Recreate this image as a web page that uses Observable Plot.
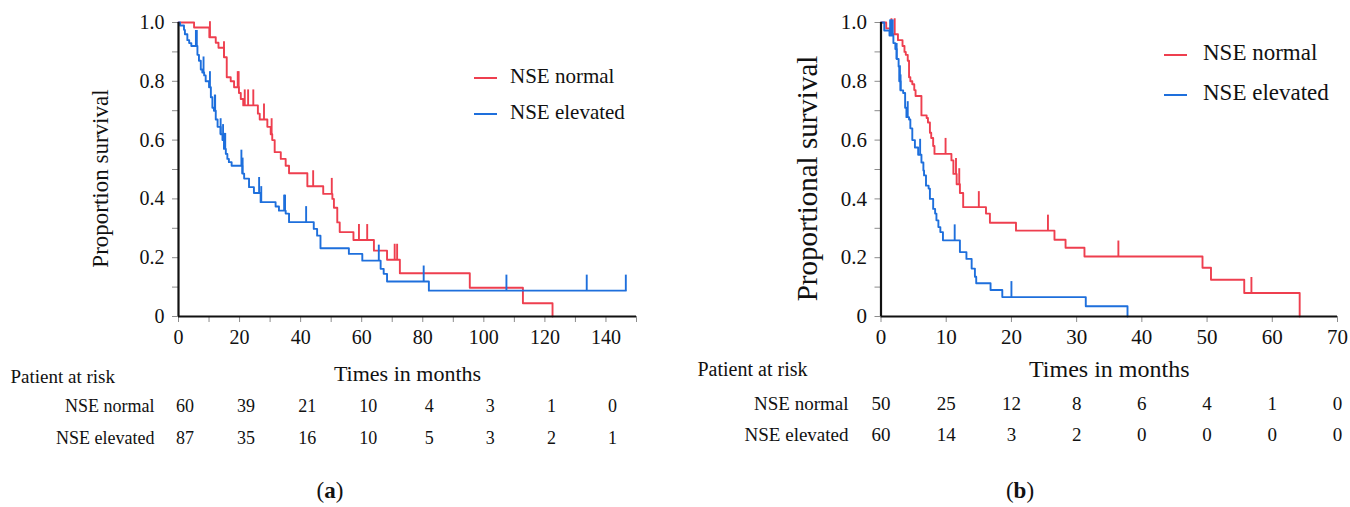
<!DOCTYPE html>
<html><head><meta charset="utf-8">
<script src="https://cdn.jsdelivr.net/npm/d3@7"></script>
<script src="https://cdn.jsdelivr.net/npm/@observablehq/plot@0.6"></script>
<style>
  html,body{margin:0;padding:0;background:#fff;}
  body{font-family:"Liberation Serif",serif;color:#111;}
  #wrap{position:relative;width:1350px;height:507px;display:flex;overflow:hidden}
  .panel{position:relative;width:675px;height:507px}
  .panel svg{position:absolute;left:0;top:0;overflow:visible}
  .legend{position:absolute;font-family:"Liberation Serif",serif;color:#111}
  .legend .item{position:absolute;left:0;display:flex;align-items:center;white-space:nowrap}
  .legend .swatch{height:2px;display:inline-block}
  .cap{position:absolute;font-family:"Liberation Serif",serif;font-size:23px;color:#111;transform:translate(-50%,-50%);white-space:nowrap}
</style></head>
<body>
<div id="wrap"><div class="panel" id="pa"></div><div class="panel" id="pb"></div></div>
<script>
// ---------- DATA ----------
const seriesNames = ["NSE normal", "NSE elevated"];
const seriesColors = ["#ee3f4f", "#1e6fdc"];

// Panel (a): overall survival, time in months
const aNormalTimes = [0, 5.1, 10.1, 12.2, 13.1, 14.9, 15.8, 17.1, 18.2, 19.8, 20.4, 21.2, 26.0, 26.6, 29.1, 30.2, 30.7, 31.5, 33.5, 35.1, 36.2, 42.2, 47.4, 50.4, 50.9, 52.0, 52.8, 57.3, 64.0, 68.3, 72.5, 95.4, 112.8, 122.5];
const aNormalSurv  = [1.0, 0.983, 0.95, 0.931, 0.914, 0.882, 0.814, 0.80, 0.78, 0.76, 0.74, 0.718, 0.69, 0.67, 0.645, 0.62, 0.60, 0.559, 0.536, 0.513, 0.487, 0.443, 0.417, 0.40, 0.37, 0.32, 0.287, 0.26, 0.224, 0.193, 0.147, 0.098, 0.045, 0];
const aNormalCensor = [10.3, 14.9, 19.4, 19.7, 21.7, 22.8, 24.5, 28.0, 30.5, 44.1, 50.2, 59.1, 61.8, 70.8, 71.6];

const aElevTimes = [0, 0.5, 1.8, 2.1, 2.9, 3.5, 4.2, 6.2, 6.7, 7.3, 7.8, 8.4, 8.9, 10.0, 10.6, 11.1, 11.6, 12.2, 12.8, 13.8, 14.4, 14.9, 15.5, 16.0, 16.5, 17.4, 20.9, 21.5, 23.1, 24.7, 26.9, 31.8, 32.9, 35.1, 36.2, 44.3, 45.4, 46.5, 55.8, 60.2, 66.2, 67.2, 68.3, 82.0, 146.5];
const aElevSurv  = [1.0, 0.99, 0.975, 0.96, 0.94, 0.93, 0.92, 0.89, 0.87, 0.84, 0.83, 0.82, 0.80, 0.78, 0.746, 0.71, 0.70, 0.67, 0.645, 0.62, 0.60, 0.57, 0.553, 0.536, 0.525, 0.513, 0.486, 0.469, 0.44, 0.42, 0.389, 0.374, 0.36, 0.35, 0.321, 0.298, 0.275, 0.232, 0.213, 0.19, 0.162, 0.145, 0.119, 0.088, 0.088];
const aElevCensor = [5.7, 6.0, 8.2, 10.3, 11.9, 12.0, 13.8, 14.6, 15.0, 15.3, 20.6, 21.0, 26.4, 27.1, 34.6, 34.9, 41.8, 65.6, 80.3, 107.4, 133.7, 146.5];

const aXDomain = [0, 150];
const aXMajor = [0, 20, 40, 60, 80, 100, 120, 140];
const aXMinor = [10, 30, 50, 70, 90, 110, 130, 150];
const aRiskTimes = [0, 20, 40, 60, 80, 100, 120, 140];
const aRiskNormal = [60, 39, 21, 10, 4, 3, 1, 0];
const aRiskElev = [87, 35, 16, 10, 5, 3, 2, 1];
const aYTitle = "Proportion survival";

// Panel (b)
const bNormalTimes = [0, 0.8, 1.4, 2.6, 3.3, 3.6, 3.8, 4.1, 4.3, 4.5, 4.8, 5.1, 5.3, 6.2, 7.0, 7.2, 7.5, 7.7, 8.0, 8.2, 10.8, 11.1, 11.6, 12.1, 12.6, 16.1, 16.7, 20.7, 26.6, 28.3, 31.2, 49.3, 50.6, 55.7, 64.2];
const bNormalSurv  = [1.0, 0.98, 0.96, 0.94, 0.92, 0.90, 0.89, 0.87, 0.814, 0.80, 0.79, 0.77, 0.75, 0.684, 0.675, 0.66, 0.625, 0.607, 0.58, 0.553, 0.531, 0.485, 0.45, 0.42, 0.372, 0.35, 0.319, 0.292, 0.261, 0.234, 0.204, 0.166, 0.125, 0.08, 0];
const bNormalCensor = [1.6, 2.1, 9.9, 11.5, 12.0, 15.0, 25.6, 36.4, 56.8];

const bElevTimes = [0, 0.5, 1.3, 1.9, 2.2, 2.4, 2.7, 2.8, 3.0, 3.4, 3.7, 3.9, 4.3, 4.5, 4.8, 5.2, 5.7, 6.2, 6.5, 6.6, 6.9, 7.3, 7.5, 8.0, 8.3, 8.5, 8.8, 9.1, 9.5, 12.1, 13.1, 13.9, 14.4, 14.6, 16.8, 18.6, 31.4, 37.8];
const bElevSurv  = [1.0, 0.973, 0.956, 0.93, 0.91, 0.876, 0.85, 0.80, 0.769, 0.76, 0.71, 0.678, 0.67, 0.64, 0.60, 0.575, 0.55, 0.524, 0.497, 0.48, 0.445, 0.435, 0.40, 0.366, 0.35, 0.327, 0.304, 0.287, 0.259, 0.219, 0.196, 0.163, 0.135, 0.113, 0.09, 0.066, 0.035, 0];
const bElevCensor = [1.4, 1.6, 1.8, 2.4, 2.9, 3.0, 4.1, 6.0, 11.3, 20.0];

const bXDomain = [0, 70];
const bXMajor = [0, 10, 20, 30, 40, 50, 60, 70];
const bXMinor = [];
const bRiskTimes = [0, 10, 20, 30, 40, 50, 60, 70];
const bRiskNormal = [50, 25, 12, 8, 6, 4, 1, 0];
const bRiskElev = [60, 14, 3, 2, 0, 0, 0, 0];
const bYTitle = "Proportional survival";

const yMajor = [0, 0.2, 0.4, 0.6, 0.8, 1.0];
const yMajorLabels = ["0", "0.2", "0.4", "0.6", "0.8", "1.0"];
const yMinor = [0.1, 0.3, 0.5, 0.7, 0.9];
const xTitle = "Times in months";
const riskTitle = "Patient at risk";

// ---------- HELPERS ----------
function steps(times, surv, name) {
  return times.map((t, i) => ({t, s: surv[i], name}));
}
function levelAt(times, surv, t) {
  let v = surv[0];
  for (let i = 0; i < times.length; i++) if (times[i] <= t) v = surv[i];
  return v;
}
function censors(cTimes, times, surv, name) {
  return cTimes.map(t => ({t, s: levelAt(times, surv, t), name}));
}
const censorTick = { draw(ctx) { ctx.moveTo(0, 0); ctx.lineTo(0, -16); } };

function panel(el, cfg) {
  const curves = [
    steps(cfg.nT, cfg.nS, seriesNames[0]),
    steps(cfg.eT, cfg.eS, seriesNames[1])
  ];
  const cens = [
    censors(cfg.nC, cfg.nT, cfg.nS, seriesNames[0]),
    censors(cfg.eC, cfg.eT, cfg.eS, seriesNames[1])
  ];
  const riskN = cfg.riskTimes.map((t, i) => ({t, n: cfg.riskN[i]}));
  const riskE = cfg.riskTimes.map((t, i) => ({t, n: cfg.riskE[i]}));
  const lab = new Map(yMajor.map((v, i) => [v, yMajorLabels[i]]));
  const s = cfg.f;
  const chart = Plot.plot({
    width: 675, height: 507,
    marginLeft: cfg.ml, marginRight: cfg.mr, marginTop: 22, marginBottom: 191,
    x: {domain: cfg.xDomain},
    y: {domain: [0, 1]},
    style: {fontFamily: "'Liberation Serif', serif", color: "#111", background: "transparent", overflow: "visible"},
    marks: [
      Plot.axisY({ticks: yMinor, tickFormat: () => "", tickSize: 6, stroke: "#8c8c8c", label: null}),
      Plot.axisY({ticks: yMajor, tickFormat: d => lab.get(d), tickSize: 6, tickPadding: 8, stroke: "#8c8c8c", fontSize: s.tick, label: null}),
      Plot.axisX({ticks: cfg.xMinor, tickFormat: () => "", tickSize: 6, stroke: "#8c8c8c", label: null}),
      Plot.axisX({ticks: cfg.xMajor, tickFormat: d => String(d), tickSize: 6, tickPadding: 7, stroke: "#8c8c8c", fontSize: s.tick, label: null}),
      ...curves.map((c, i) => Plot.line(c, {x: "t", y: "s", curve: "step-after", stroke: seriesColors[i], strokeWidth: 1.9})),
      ...cens.map((c, i) => Plot.dot(c, {x: "t", y: "s", symbol: censorTick, stroke: seriesColors[i], strokeWidth: 1.9, fill: "none"})),
      Plot.ruleX([0], {stroke: "#111", strokeWidth: 2.2}),
      Plot.ruleY([0], {stroke: "#111", strokeWidth: 2.2}),
      Plot.text([cfg.yTitle], {text: d => d, frameAnchor: "left", textAnchor: "middle", rotate: -90, dx: -cfg.yTitleOff, dy: 9, fontSize: s.ytitle, fill: "#111"}),
      Plot.text([xTitle], {text: d => d, frameAnchor: "bottom", dy: cfg.xTitleDy, fontSize: s.xtitle, fill: "#111"}),
      Plot.text([riskTitle], {text: d => d, frameAnchor: "bottom-left", textAnchor: "start", dx: cfg.riskTitleDx, dy: cfg.riskTitleDy, fontSize: s.risk, fill: "#111", letterSpacing: "-0.4px"}),
      Plot.text([seriesNames[0]], {text: d => d, frameAnchor: "bottom-left", textAnchor: "end", dx: cfg.rowLabelDx, dy: cfg.row1Dy, fontSize: s.row, fill: "#111", letterSpacing: "-0.3px"}),
      Plot.text([seriesNames[1]], {text: d => d, frameAnchor: "bottom-left", textAnchor: "end", dx: cfg.rowLabelDx, dy: cfg.row2Dy, fontSize: s.row, fill: "#111", letterSpacing: "-0.3px"}),
      Plot.text(riskN, {x: "t", text: d => String(d.n), frameAnchor: "bottom", dx: cfg.numDx, dy: cfg.row1Dy, fontSize: s.row, fill: "#111"}),
      Plot.text(riskE, {x: "t", text: d => String(d.n), frameAnchor: "bottom", dx: cfg.numDx, dy: cfg.row2Dy, fontSize: s.row, fill: "#111"})
    ]
  });
  el.appendChild(chart);

  const leg = document.createElement("div");
  leg.className = "legend";
  leg.style.left = cfg.legX + "px";
  leg.style.top = "0px";
  leg.style.fontSize = s.legend + "px";
  seriesNames.forEach((n, i) => {
    const it = document.createElement("div");
    it.className = "item";
    it.style.top = (cfg.legY[i] - s.legend * 0.6) + "px";
    it.style.height = (s.legend * 1.2) + "px";
    const sw = document.createElement("span");
    sw.className = "swatch";
    sw.style.width = "23px";
    sw.style.background = seriesColors[i];
    sw.style.marginRight = cfg.legGap + "px";
    sw.style.marginTop = cfg.legLineOff + "px";
    const tx = document.createElement("span");
    tx.textContent = n;
    it.appendChild(sw); it.appendChild(tx);
    leg.appendChild(it);
  });
  el.appendChild(leg);

  const cap = document.createElement("div");
  cap.className = "cap";
  cap.style.left = cfg.capX + "px";
  cap.style.top = "491px";
  cap.innerHTML = "(<b>" + cfg.capLetter + "</b>)";
  el.appendChild(cap);
}

panel(document.getElementById("pa"), {
  nT: aNormalTimes, nS: aNormalSurv, nC: aNormalCensor,
  eT: aElevTimes, eS: aElevSurv, eC: aElevCensor,
  xDomain: aXDomain, xMajor: aXMajor, xMinor: aXMinor,
  riskTimes: aRiskTimes, riskN: aRiskNormal, riskE: aRiskElev,
  yTitle: aYTitle, ml: 178, mr: 39,
  f: {tick: 20, ytitle: 23, xtitle: 22, risk: 19, row: 18, legend: 21},
  yTitleOff: 78, xTitleDy: 64, riskTitleDx: -168, riskTitleDy: 66,
  rowLabelDx: -24, row1Dy: 95, row2Dy: 127, numDx: 6.5,
  legX: 474, legY: [77, 113], legGap: 13, legLineOff: 3,
  capX: 330, capLetter: "a"
});
panel(document.getElementById("pb"), {
  nT: bNormalTimes, nS: bNormalSurv, nC: bNormalCensor,
  eT: bElevTimes, eS: bElevSurv, eC: bElevCensor,
  xDomain: bXDomain, xMajor: bXMajor, xMinor: bXMinor,
  riskTimes: bRiskTimes, riskN: bRiskNormal, riskE: bRiskElev,
  yTitle: bYTitle, ml: 205.5, mr: 13,
  f: {tick: 21, ytitle: 29, xtitle: 24, risk: 20, row: 19, legend: 23},
  yTitleOff: 73, xTitleDy: 60, riskTitleDx: -183.5, riskTitleDy: 59,
  rowLabelDx: -32.5, row1Dy: 93, row2Dy: 124, numDx: 0,
  legX: 489, legY: [53, 93], legGap: 16, legLineOff: 4,
  capX: 345, capLetter: "b"
});
</script>
</body></html>
